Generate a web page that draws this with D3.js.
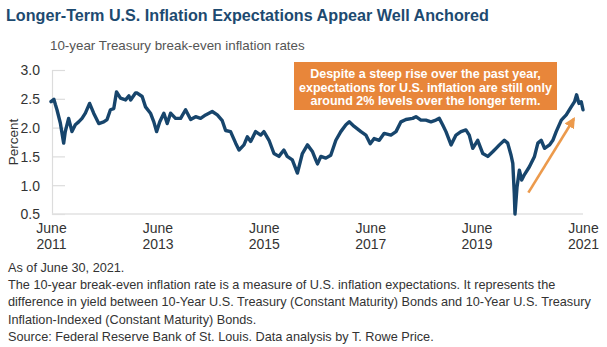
<!DOCTYPE html>
<html><head><meta charset="utf-8">
<script src="https://cdn.jsdelivr.net/npm/d3@7"></script>
<style>
html,body{margin:0;padding:0;background:#fff;}
svg{display:block;font-family:"Liberation Sans",Arial,Helvetica,sans-serif;}
</style></head>
<body><svg id="c" width="607" height="347"></svg>
<script>
const title = "Longer-Term U.S. Inflation Expectations Appear Well Anchored";
const subtitle = "10-year Treasury break-even inflation rates";
const yLabel = "Percent";
const yTicks = [0.5, 1.0, 1.5, 2.0, 2.5, 3.0];
const xTickDates = ["2011-06-30","2013-06-30","2015-06-30","2017-06-30","2019-06-30","2021-06-30"];
const xTickLabels = [["June","2011"],["June","2013"],["June","2015"],["June","2017"],["June","2019"],["June","2021"]];
const calloutLines = ["Despite a steep rise over the past year,","expectations for U.S. inflation are still only","around 2% levels over the longer term."];
const arrowFrom = ["2020-06-20", 0.87];
const arrowTo = ["2021-04-28", 2.15];
const notes = [
 "As of June 30, 2021.",
 "The 10-year break-even inflation rate is a measure of U.S. inflation expectations. It represents the",
 "difference in yield between 10-Year U.S. Treasury (Constant Maturity) Bonds and 10-Year U.S. Treasury",
 "Inflation-Indexed (Constant Maturity) Bonds.",
 "Source: Federal Reserve Bank of St. Louis. Data analysis by T. Rowe Price."
];
const dates = [
"2011-06-30","2011-07-20","2011-07-30","2011-08-10","2011-09-02","2011-09-25","2011-10-06","2011-10-29","2011-11-21","2011-12-14",
"2012-01-06","2012-01-29","2012-02-21","2012-03-21","2012-04-18","2012-05-23","2012-06-26","2012-07-19","2012-08-11","2012-09-03",
"2012-09-22","2012-10-19","2012-11-23","2012-12-16","2012-12-28","2013-01-30","2013-02-11","2013-03-17","2013-04-09","2013-05-13",
"2013-06-05","2013-06-24","2013-07-16","2013-08-13","2013-09-05","2013-09-28","2013-11-01","2013-12-06","2014-01-09","2014-02-13",
"2014-03-19","2014-04-22","2014-05-27","2014-07-11","2014-08-15","2014-09-18","2014-10-11","2014-11-14","2014-12-19","2015-01-11",
"2015-02-14","2015-03-09","2015-04-01","2015-05-05","2015-06-09","2015-07-01","2015-08-05","2015-09-08","2015-10-12","2015-11-15",
"2015-12-08","2016-01-12","2016-02-16","2016-03-21","2016-04-25","2016-05-30","2016-06-21","2016-07-03","2016-07-26","2016-08-29",
"2016-10-02","2016-11-06","2016-12-10","2017-01-14","2017-02-06","2017-03-12","2017-04-27","2017-05-31","2017-06-30","2017-07-27",
"2017-08-31","2017-10-04","2017-11-19","2017-12-24","2018-01-27","2018-03-02","2018-04-17","2018-05-10","2018-06-13","2018-07-17",
"2018-08-21","2018-09-24","2018-10-17","2018-11-09","2018-12-02","2019-01-06","2019-02-09","2019-03-15","2019-04-18","2019-05-11",
"2019-06-04","2019-07-08","2019-08-12","2019-09-15","2019-10-19","2019-11-11","2019-12-04","2020-01-07","2020-01-30","2020-02-22",
"2020-03-05","2020-03-15","2020-03-20","2020-04-03","2020-04-19","2020-05-05","2020-05-23","2020-06-27","2020-08-01","2020-08-24",
"2020-09-16","2020-10-09","2020-11-12","2020-12-05","2020-12-28","2021-02-01","2021-03-07","2021-04-10","2021-05-03","2021-05-17",
"2021-06-02","2021-06-18","2021-06-30"
];
const values = [
2.45,2.49,2.40,2.31,2.08,1.73,1.93,2.16,1.93,2.05,
2.10,2.16,2.25,2.42,2.25,2.07,2.10,2.14,2.31,2.33,
2.62,2.51,2.48,2.55,2.48,2.60,2.60,2.54,2.36,2.25,
2.10,1.93,2.10,2.25,2.07,2.25,2.16,2.16,2.31,2.14,
2.19,2.16,2.22,2.28,2.22,2.12,1.95,1.93,1.73,1.61,
1.70,1.84,1.76,1.93,1.87,1.93,1.78,1.55,1.50,1.61,
1.50,1.44,1.21,1.55,1.70,1.58,1.44,1.37,1.50,1.47,
1.52,1.78,1.93,2.05,2.10,2.02,1.93,1.87,1.72,1.81,
1.78,1.90,1.87,1.93,2.10,2.14,2.16,2.19,2.13,2.13,
2.10,2.13,2.16,2.05,1.93,1.70,1.87,1.93,1.96,1.87,
1.64,1.78,1.55,1.50,1.58,1.64,1.70,1.78,1.73,1.52,
1.38,0.86,0.50,0.97,1.26,1.09,1.18,1.32,1.50,1.73,
1.78,1.64,1.70,1.78,1.93,2.13,2.22,2.36,2.45,2.57,
2.42,2.45,2.31
];

const parse = d3.timeParse("%Y-%m-%d");
const data = dates.map((d,i)=>({date:parse(d), v:values[i]}));
const svg = d3.select("#c");

const x = d3.scaleTime().domain([parse("2011-06-30"), parse("2021-06-30")]).range([51, 583]);
const y = d3.scaleLinear().domain([0.5, 3.0]).range([214, 70]);

function fit(sel, w){
  const n = sel.node(); let fs = parseFloat(sel.attr("font-size"));
  const cur = n.getComputedTextLength(); sel.attr("font-size", (fs*w/cur).toFixed(2));
}

// title
const t = svg.append("text").attr("x",6).attr("y",21).attr("font-size",17).attr("font-weight","bold")
  .attr("fill","#1d4a70").text(title);
fit(t, 483);
const st = svg.append("text").attr("x",50).attr("y",50).attr("font-size",15).attr("fill","#555").text(subtitle);
fit(st, 255);

// y axis
const ya = svg.append("g").attr("transform","translate(52,0)")
  .call(d3.axisRight(y).tickValues(yTicks).tickSize(13).tickFormat(""));
ya.select(".domain").attr("stroke","#dcdcdc").attr("stroke-width",1.2);
ya.selectAll(".tick line").attr("stroke","#dcdcdc").attr("stroke-width",1.2);
svg.append("g").attr("transform","translate(43,0)")
  .call(d3.axisLeft(y).tickValues(yTicks).tickSize(0).tickFormat(d3.format(".1f")))
  .call(g=>g.select(".domain").remove())
  .selectAll("text").attr("font-size",14).attr("fill","#333").attr("font-family","Liberation Sans, Arial, sans-serif").attr("dy","0.35em");

svg.append("text").attr("transform","translate(18,142) rotate(-90)").attr("text-anchor","middle")
  .attr("font-size",13.5).attr("fill","#333").text(yLabel);

// x axis
const xa = svg.append("g").attr("transform","translate(0,214)")
  .call(d3.axisBottom(x).tickValues(xTickDates.map(parse)).tickSize(0).tickFormat(""));
xa.select(".domain").attr("stroke","#e2e2e2").attr("stroke-width",1.5).attr("d","M52,0H583");
xa.selectAll(".tick").each(function(d,i){
  const g = d3.select(this);
  const tx = g.append("text").attr("text-anchor","middle").attr("font-size",14).attr("fill","#333");
  tx.append("tspan").attr("x",0).attr("y",19).text(xTickLabels[i][0]);
  tx.append("tspan").attr("x",0).attr("y",34.5).text(xTickLabels[i][1]);
});

// line
svg.append("path").datum(data)
  .attr("d", d3.line().x(d=>x(d.date)).y(d=>y(d.v)))
  .attr("fill","none").attr("stroke","#17456c").attr("stroke-width",3.4)
  .attr("stroke-linejoin","round").attr("stroke-linecap","round");

// callout
svg.append("rect").attr("x",294).attr("y",62).attr("width",263).attr("height",48).attr("fill","#e8863a");
calloutLines.forEach((s,i)=>{
  svg.append("text").attr("x",425.5).attr("y",78+i*13.5).attr("text-anchor","middle")
    .attr("font-size",12.5).attr("font-weight","bold").attr("fill","#fff").text(s);
});

// arrow
const defs = svg.append("defs");
defs.append("marker").attr("id","ah").attr("viewBox","0 0 10 10").attr("refX",8).attr("refY",5)
  .attr("markerWidth",4.2).attr("markerHeight",4.2).attr("orient","auto")
  .append("path").attr("d","M0,0L10,5L0,10z").attr("fill","#ec9a4c");
svg.append("line").attr("x1",x(parse(arrowFrom[0]))).attr("y1",y(arrowFrom[1]))
  .attr("x2",x(parse(arrowTo[0]))).attr("y2",y(arrowTo[1]))
  .attr("stroke","#ec9a4c").attr("stroke-width",2.6).attr("marker-end","url(#ah)");

// notes
notes.forEach((s,i)=>{
  const n = svg.append("text").attr("x",8).attr("y",272+i*17.2).attr("font-size",12.5).attr("fill","#333").text(s);
  if(i===2) fit(n, 583);
});
const fs = svg.selectAll("text").filter(function(){return this.textContent===notes[2];}).attr("font-size");
svg.selectAll("text").filter(function(){return notes.includes(this.textContent);}).attr("font-size",fs);
</script></body></html>
